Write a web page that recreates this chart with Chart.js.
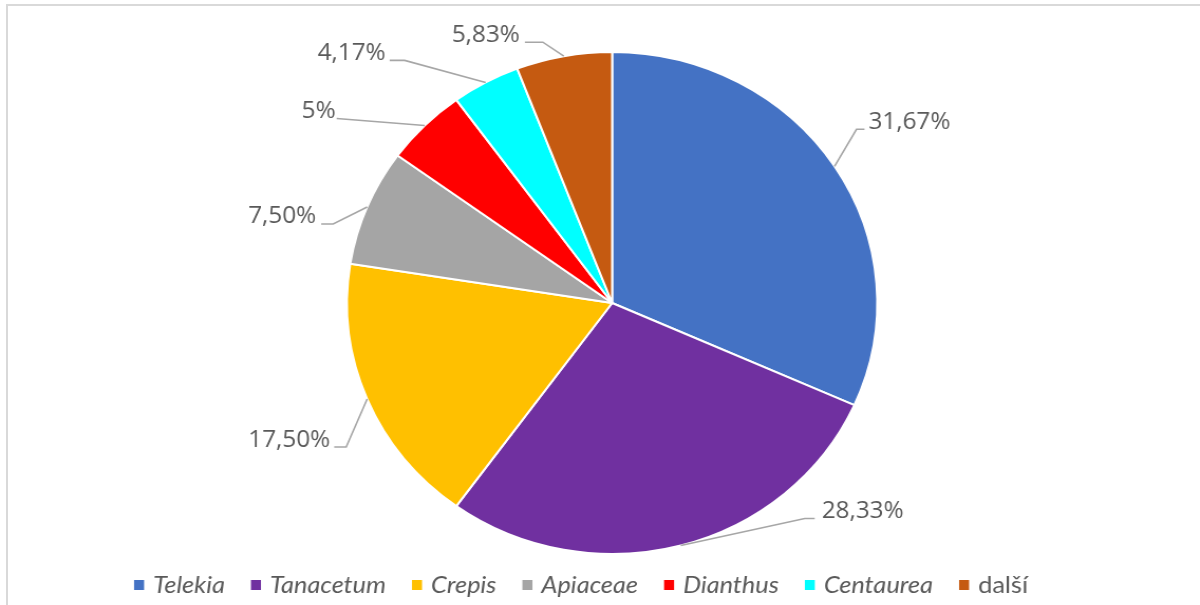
<!DOCTYPE html>
<html>
<head>
<meta charset="utf-8">
<script src="https://cdn.jsdelivr.net/npm/chart.js@4.4.1/dist/chart.umd.min.js"></script>
<style>
html, body { margin: 0; padding: 0; background: #fff; overflow: hidden; width: 1200px; height: 605px; }
#frame { position: absolute; left: 6px; top: 4px; width: 1400px; height: 800px; border: 2px solid #d9d9d9; }
#wrap { position: absolute; left: 0; top: 0; width: 1136px; height: 605px; transform: scaleX(1.0563); transform-origin: 0 0; }
</style>
</head>
<body>
<div id="frame"></div>
<div id="wrap"><canvas id="graph"></canvas></div>
<script>
// rody a jejich podíl (%)
var genera = ["Telekia", "Tanacetum", "Crepis", "Apiaceae", "Dianthus", "Centaurea", "další"];
var shares = [31.67, 28.33, 17.50, 7.50, 5, 4.17, 5.83];
var shareLabels = ["31,67%", "28,33%", "17,50%", "7,50%", "5%", "4,17%", "5,83%"];
var colors = ["#4472C4", "#7030A0", "#FFC000", "#A5A5A5", "#FF0000", "#00FFFF", "#C55A11"];
var italicNames = [true, true, true, true, true, true, false];

// popisky: [elbow dx, elbow dy, tail, text gap] v px
var calloutOffsets = [
    [22, -37, 8, 4],
    [124, -27, 10, 7],
    [-21, 48, -12, 4],
    [-34, 17, -12, 5],
    [-88, -7, 0, 1],
    [-81, -22, -15, 4],
    [-21, -14, -18, 5]
];

var SX = 1.0563; // horizontal stretch of the wrapper
var legendFont = "24px Lato";

var calloutPlugin = {
    id: "callouts",
    afterDatasetsDraw: function (chart) {
        var ctx = chart.ctx;
        var arcs = chart.getDatasetMeta(0).data;
        ctx.save();
        ctx.font = "23px 'Open Sans'";
        ctx.textBaseline = "middle";
        arcs.forEach(function (arc, i) {
            var mid = (arc.startAngle + arc.endAngle) / 2;
            var ax = arc.x + Math.cos(mid) * arc.outerRadius;
            var ay = arc.y + Math.sin(mid) * arc.outerRadius;
            var o = calloutOffsets[i];
            var ex = ax + o[0] / SX, ey = ay + o[1];
            var tx = ex + o[2] / SX;
            ctx.strokeStyle = "#a6a6a6";
            ctx.lineWidth = 1.6;
            ctx.beginPath();
            ctx.moveTo(ax, ay);
            ctx.lineTo(ex, ey);
            ctx.lineTo(tx, ey);
            ctx.stroke();
            var right = o[0] > 0;
            ctx.textAlign = right ? "left" : "right";
            ctx.fillStyle = "#595959";
            ctx.fillText(shareLabels[i], tx + (right ? o[3] : -o[3]) / SX, ey - 7);
        });
        ctx.restore();
    }
};

var legendPlugin = {
    id: "bottomLegend",
    afterDraw: function (chart) {
        var ctx = chart.ctx;
        var boxW = 10 / SX, boxH = 10, boxGap = 9 / SX, itemGap = 26 / SX;
        var y = 585;
        var widths = [];
        var total = 0;
        ctx.save();
        genera.forEach(function (name, i) {
            ctx.font = (italicNames[i] ? "italic " : "") + legendFont;
            var w = ctx.measureText(name).width;
            widths.push(w);
            total += boxW + boxGap + w;
        });
        total += itemGap * (genera.length - 1);
        var x = 581 / SX - total / 2;
        ctx.textBaseline = "middle";
        ctx.textAlign = "left";
        genera.forEach(function (name, i) {
            ctx.fillStyle = colors[i];
            ctx.fillRect(x, y - boxH / 2, boxW, boxH);
            x += boxW + boxGap;
            ctx.font = (italicNames[i] ? "italic " : "") + legendFont;
            ctx.fillStyle = "#595959";
            ctx.fillText(name, x, y);
            x += widths[i] + itemGap;
        });
        ctx.restore();
    }
};

var ctx = document.getElementById("graph").getContext("2d");
var pieChart = new Chart(ctx, {
    type: "pie",
    data: {
        labels: genera,
        datasets: [{
            data: shares,
            backgroundColor: colors,
            borderColor: "#ffffff",
            borderWidth: 2
        }]
    },
    options: {
        responsive: true,
        maintainAspectRatio: false,
        animation: false,
        layout: { padding: { top: 51, bottom: 50, left: 100, right: 77 } },
        plugins: {
            legend: { display: false },
            tooltip: { enabled: false }
        }
    },
    plugins: [calloutPlugin, legendPlugin]
});
</script>
</body>
</html>
